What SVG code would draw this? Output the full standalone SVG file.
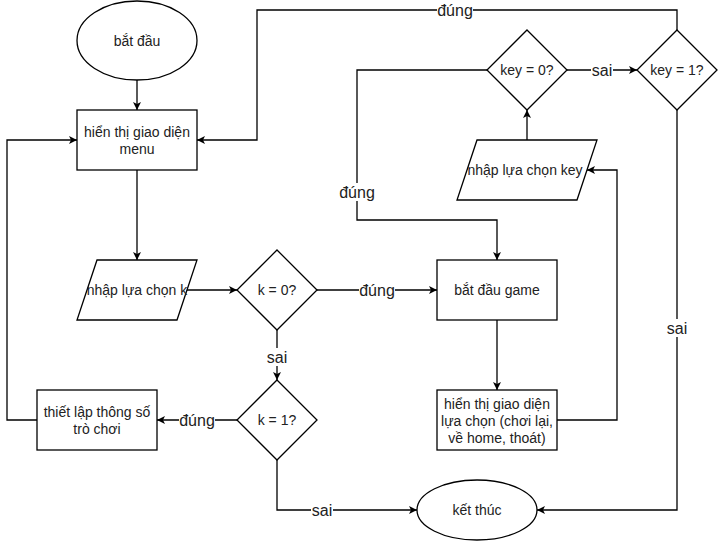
<svg xmlns="http://www.w3.org/2000/svg" width="718" height="541" viewBox="0 0 718 541">
<defs>
<style>
.n{fill:#fff;stroke:#000;stroke-width:1.3}
.t{font-family:"Liberation Sans",Arial,sans-serif;font-size:14px;fill:#222;text-anchor:middle}
.e{fill:none;stroke:#000;stroke-width:1.3}
.l{font-family:"Liberation Sans",Arial,sans-serif;font-size:16px;fill:#222;text-anchor:middle}
.bg{fill:#fff}
</style>
<marker id="a" markerUnits="userSpaceOnUse" markerWidth="10" markerHeight="10" refX="9" refY="5" orient="auto">
<path d="M1,1 L9,5 L1,9 L3,5 Z" fill="#000"/>
</marker>
</defs>
<rect width="718" height="541" fill="#fff"/>
<g id="connectors">
<path class="e" d="M137,80 L137,110" marker-end="url(#a)"/>
<path class="e" d="M137,170 L137,260" marker-end="url(#a)"/>
<path class="e" d="M187,290 L237,290" marker-end="url(#a)"/>
<path class="e" d="M317,290 L437,290" marker-end="url(#a)"/>
<path class="e" d="M277,330 L277,380" marker-end="url(#a)"/>
<path class="e" d="M237,420 L157,420" marker-end="url(#a)"/>
<path class="e" d="M37,420 L7,420 L7,140 L77,140" marker-end="url(#a)"/>
<path class="e" d="M277,460 L277,510 L417,510" marker-end="url(#a)"/>
<path class="e" d="M497,320 L497,390" marker-end="url(#a)"/>
<path class="e" d="M557,420 L617,420 L617,170 L587,170" marker-end="url(#a)"/>
<path class="e" d="M527,140 L527,110" marker-end="url(#a)"/>
<path class="e" d="M567,70 L637,70" marker-end="url(#a)"/>
<path class="e" d="M487,70 L357,70 L357,220 L497,220 L497,260" marker-end="url(#a)"/>
<path class="e" d="M677,30 L677,10 L257,10 L257,140 L197,140" marker-end="url(#a)"/>
<path class="e" d="M677,110 L677,510 L537,510" marker-end="url(#a)"/>
<rect class="bg" x="359" y="281" width="36" height="18"/><text class="l" x="377" y="296">đúng</text>
<rect class="bg" x="266" y="348" width="22" height="18"/><text class="l" x="277" y="363">sai</text>
<rect class="bg" x="179" y="411" width="36" height="18"/><text class="l" x="197" y="426">đúng</text>
<rect class="bg" x="311" y="501" width="22" height="18"/><text class="l" x="322" y="516">sai</text>
<rect class="bg" x="591" y="61" width="22" height="18"/><text class="l" x="602" y="76">sai</text>
<rect class="bg" x="339" y="183" width="36" height="18"/><text class="l" x="357" y="198">đúng</text>
<rect class="bg" x="437" y="1" width="36" height="18"/><text class="l" x="455" y="16">đúng</text>
<rect class="bg" x="666" y="319" width="22" height="18"/><text class="l" x="677" y="334">sai</text>
</g>
<g id="start"><ellipse class="n" cx="137" cy="40.5" rx="60" ry="39.5"/><text class="t" x="137" y="46">bắt đầu</text></g>
<g id="menu"><rect class="n" x="77" y="110" width="120" height="60"/><text class="t" x="137" y="137">hiển thị giao diện</text><text class="t" x="137" y="154">menu</text></g>
<g id="input-k"><path class="n" d="M97,260 L197,260 L177,320 L77,320 Z"/><text class="t" x="137" y="295">nhập lựa chọn k</text></g>
<g id="k0"><path class="n" d="M277,250 L317,290 L277,330 L237,290 Z"/><text class="t" x="277" y="295">k = 0?</text></g>
<g id="k1"><path class="n" d="M277,380 L317,420 L277,460 L237,420 Z"/><text class="t" x="277" y="425">k = 1?</text></g>
<g id="settings"><rect class="n" x="37" y="390" width="120" height="60"/><text class="t" x="97" y="417">thiết lập thông số</text><text class="t" x="97" y="434">trò chơi</text></g>
<g id="game"><rect class="n" x="437" y="260" width="120" height="60"/><text class="t" x="497" y="295">bắt đầu game</text></g>
<g id="choice"><rect class="n" x="437" y="390" width="120" height="60"/><text class="t" x="497" y="409">hiển thị giao diện</text><text class="t" x="497" y="426">lựa chọn (chơi lại,</text><text class="t" x="497" y="443">về home, thoát)</text></g>
<g id="end"><ellipse class="n" cx="477" cy="510" rx="60" ry="30"/><text class="t" x="477" y="515">kết thúc</text></g>
<g id="input-key"><path class="n" d="M477,140 L597,140 L577,200 L457,200 Z"/><text class="t" x="525" y="175">nhập lựa chọn key</text></g>
<g id="key0"><path class="n" d="M527,30 L567,70 L527,110 L487,70 Z"/><text class="t" x="527" y="75">key = 0?</text></g>
<g id="key1"><path class="n" d="M677,30 L717,70 L677,110 L637,70 Z"/><text class="t" x="677" y="75">key = 1?</text></g>
</svg>
